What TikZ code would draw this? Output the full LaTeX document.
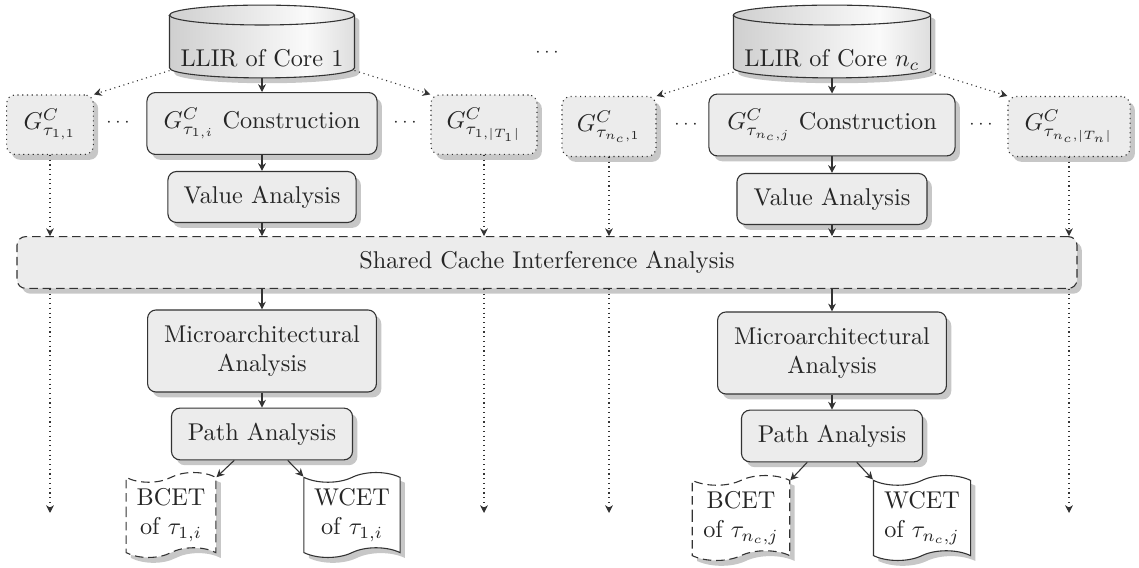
\documentclass[tikz,border=0pt]{standalone}
\usetikzlibrary{shapes.symbols,shadows,arrows.meta,backgrounds}
\pgfdeclarehorizontalshading{cylshade}{100bp}{color(0bp)=(black!30); color(62bp)=(black!2); color(100bp)=(black!34)}
\begin{document}
\begin{tikzpicture}[x=0.412pt,y=-0.412pt,
  text=black!85,
  ln/.style={draw=black!80, line width=0.45pt},
  arr/.style={ln, -{Stealth[length=3.2pt,width=3.2pt,inset=1pt]}},
  dotarr/.style={arr, dash pattern=on 0.45pt off 1.5pt},
  shadowed/.style={drop shadow={shadow xshift=2pt, shadow yshift=-2.2pt, fill=black!22, opacity=1}},
  proc/.style={rectangle, rounded corners=3.5pt, ln, fill=gray!15, shadowed, align=center, inner sep=2pt},
  ghost/.style={proc, dash pattern=on 0.45pt off 1.5pt},
  bus/.style={proc, dash pattern=on 3.5pt off 2pt},
  dbtext/.style={rectangle, outer sep=0pt, inner sep=2pt, text height=21pt, text depth=0pt},
  cylfill/.style={ln, shading=cylshade, shadowed},
  docu/.style={tape, tape bend top=in and out, tape bend bottom=in and out, tape bend height=4pt, ln, fill=white, shadowed, align=center, inner sep=2pt},
  docdash/.style={docu, dash pattern=on 3.5pt off 2pt},
  dotsnode/.style={inner sep=0pt, font=\scriptsize}
]
\useasboundingbox (0,0) rectangle (1139,568);

% ---- left core ----
\node[dbtext, minimum width=76.2pt, minimum height=30pt] (cyl1) at (262,41.5) {LLIR of Core 1};
\node[proc, minimum width=94.8pt, minimum height=25.5pt] (con1) at (262,123.5) {$G^C_{\tau_{1,i}}$ Construction};
\node[ghost, minimum width=35.7pt, minimum height=24.5pt] (g11) at (50,124.7) {$G^C_{\tau_{1,1}}$};
\node[ghost, minimum width=43.7pt, minimum height=24.5pt] (g1T) at (484,124.7) {$G^C_{\tau_{1,|T_1|}}$};
\node[dotsnode] (d1) at (118,123) {$\cdots$};
\node[dotsnode] (d2) at (405,123) {$\cdots$};
\node[proc, minimum width=77.5pt, minimum height=21pt] (val1) at (262,197) {Value Analysis};
\node[proc, minimum width=94.3pt, minimum height=33.8pt] (mic1) at (262,351) {Microarchitectural\\Analysis};
\node[proc, minimum width=74.6pt, minimum height=21.3pt] (path1) at (262,434) {Path Analysis};
\node[docdash, minimum width=37pt, minimum height=35pt] (bcet1) at (171,515) {BCET\\of $\tau_{1,i}$};
\node[docu, minimum width=39.6pt, minimum height=35pt] (wcet1) at (352,515) {WCET\\of $\tau_{1,i}$};

% ---- middle ----
\node[dotsnode] (dm) at (547,53) {$\cdots$};
\node[bus, minimum width=436.7pt, minimum height=21.3pt] (shared) at (547,262.5) {Shared Cache Interference Analysis};

% ---- right core ----
\node[dbtext, minimum width=81.2pt, minimum height=30pt] (cyl2) at (832,41.5) {LLIR of Core $n_c$};
\node[proc, minimum width=101.4pt, minimum height=25.5pt] (con2) at (832,125) {$G^C_{\tau_{n_c,j}}$ Construction};
\node[ghost, minimum width=38.7pt, minimum height=24.7pt] (gn1) at (609,126.5) {$G^C_{\tau_{n_c,1}}$};
\node[ghost, minimum width=50.3pt, minimum height=24.7pt] (gnT) at (1069,126.5) {$G^C_{\tau_{n_c,|T_n|}}$};
\node[dotsnode] (d3) at (686,125) {$\cdots$};
\node[dotsnode] (d4) at (981,125) {$\cdots$};
\node[proc, minimum width=78.3pt, minimum height=21pt] (val2) at (832,199) {Value Analysis};
\node[proc, minimum width=94.3pt, minimum height=33.8pt] (mic2) at (832,353) {Microarchitectural\\Analysis};
\node[proc, minimum width=74.6pt, minimum height=21.3pt] (path2) at (832,436) {Path Analysis};
\node[docdash, minimum width=40.2pt, minimum height=35pt] (bcet2) at (741,518) {BCET\\of $\tau_{n_c,j}$};
\node[docu, minimum width=40pt, minimum height=35pt] (wcet2) at (922,518) {WCET\\of $\tau_{n_c,j}$};

% ---- cylinder bodies (behind the text of cyl1 / cyl2) ----
\begin{scope}[on background layer]
\path[cylfill] ([yshift=-4.1pt]cyl1.north west) -- ([yshift=4.1pt]cyl1.south west)
  arc[start angle=180, end angle=360, x radius=38.1pt, y radius=4.1pt]
  -- ([yshift=-4.1pt]cyl1.north east)
  arc[start angle=0, end angle=180, x radius=38.1pt, y radius=4.1pt] -- cycle;
\draw[ln] ([yshift=-4.1pt]cyl1.north west)
  arc[start angle=180, end angle=360, x radius=38.1pt, y radius=4.1pt];
\path[cylfill] ([yshift=-4.1pt]cyl2.north west) -- ([yshift=4.1pt]cyl2.south west)
  arc[start angle=180, end angle=360, x radius=40.6pt, y radius=4.1pt]
  -- ([yshift=-4.1pt]cyl2.north east)
  arc[start angle=0, end angle=180, x radius=40.6pt, y radius=4.1pt] -- cycle;
\draw[ln] ([yshift=-4.1pt]cyl2.north west)
  arc[start angle=180, end angle=360, x radius=40.6pt, y radius=4.1pt];
\end{scope}

% ---- end points of dotted arrows ----
\coordinate (e1) at (50,513);
\coordinate (e2) at (484,513);
\coordinate (e3) at (609,513);
\coordinate (e4) at (1069,513);

% ---- connectors left ----
\draw[arr] (cyl1) -- (con1);
\draw[arr] (con1) -- (val1);
\draw[arr] (val1) -- (val1 |- shared.north);
\draw[arr] (shared.south -| mic1) -- (mic1);
\draw[arr] (mic1) -- (path1);
\draw[arr] (path1) -- (bcet1.north east);
\draw[arr] (path1) -- (wcet1.north west);
\draw[dotarr] (cyl1) -- (g11.north east);
\draw[dotarr] (cyl1) -- (g1T.north west);
\draw[dotarr] (g11) -- (g11 |- shared.north);
\draw[dotarr] (g1T) -- (g1T |- shared.north);
\draw[dotarr] (e1 |- shared.south) -- (e1);
\draw[dotarr] (e2 |- shared.south) -- (e2);

% ---- connectors right ----
\draw[arr] (cyl2) -- (con2);
\draw[arr] (con2) -- (val2);
\draw[arr] (val2) -- (val2 |- shared.north);
\draw[arr] (shared.south -| mic2) -- (mic2);
\draw[arr] (mic2) -- (path2);
\draw[arr] (path2) -- (bcet2.north east);
\draw[arr] (path2) -- (wcet2.north west);
\draw[dotarr] (cyl2) -- (gn1.north east);
\draw[dotarr] (cyl2) -- (gnT.north west);
\draw[dotarr] (gn1) -- (gn1 |- shared.north);
\draw[dotarr] (gnT) -- (gnT |- shared.north);
\draw[dotarr] (e3 |- shared.south) -- (e3);
\draw[dotarr] (e4 |- shared.south) -- (e4);
\end{tikzpicture}
\end{document}
